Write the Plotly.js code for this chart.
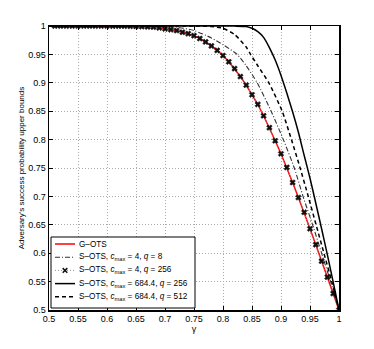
<!DOCTYPE html>
<html>
<head>
<meta charset="utf-8">
<script src="https://cdn.plot.ly/plotly-3.0.1.min.js"></script>
<style>
  html, body { margin: 0; padding: 0; background: #fff; }
  #chart { width: 374px; height: 349px; }
</style>
</head>
<body>
<div id="chart"></div>
<script>
// G-OTS (red), read at every 0.01 of gamma
const gGamma = [0.5, 0.55, 0.6, 0.61, 0.62, 0.63, 0.64, 0.65, 0.66, 0.67, 0.68, 0.69,
  0.7, 0.71, 0.72, 0.73, 0.74, 0.75, 0.76, 0.77, 0.78, 0.79, 0.8, 0.81, 0.82, 0.83,
  0.84, 0.85, 0.86, 0.87, 0.88, 0.89, 0.9, 0.91, 0.92, 0.93, 0.94, 0.95, 0.96, 0.97,
  0.98, 0.99, 1.0];
const gOts = [1.0, 1.0, 1.0, 0.9999, 0.9998, 0.9997, 0.9995, 0.9993, 0.999, 0.9985, 0.998, 0.9968,
  0.995, 0.9935, 0.992, 0.989, 0.9865, 0.983, 0.978, 0.972, 0.965, 0.957, 0.948, 0.937,
  0.925, 0.911, 0.896, 0.879, 0.862, 0.842, 0.821, 0.798, 0.775, 0.751, 0.7245, 0.698,
  0.672, 0.643, 0.615, 0.586, 0.558, 0.529, 0.5];

// S-OTS, c_max = 4, q = 256 (x markers, sit on the G-OTS curve)
const s256Gamma = [0.51, 0.52, 0.53, 0.54, 0.55, 0.56, 0.57, 0.58, 0.59, 0.6, 0.61, 0.62,
  0.63, 0.64, 0.65, 0.66, 0.67, 0.68, 0.69, 0.7, 0.71, 0.72, 0.73, 0.74, 0.75, 0.76,
  0.77, 0.78, 0.79, 0.8, 0.81, 0.82, 0.83, 0.84, 0.85, 0.86, 0.87, 0.88, 0.89, 0.9,
  0.91, 0.92, 0.93, 0.94, 0.95, 0.96, 0.97, 0.98, 0.99, 1.0];
const s256 = [1.0, 1.0, 1.0, 1.0, 1.0, 1.0, 1.0, 1.0, 1.0, 1.0, 0.9999, 0.9998,
  0.9997, 0.9995, 0.9993, 0.999, 0.9985, 0.998, 0.9968, 0.995, 0.9935, 0.992, 0.989, 0.9865,
  0.983, 0.978, 0.972, 0.965, 0.957, 0.948, 0.937, 0.925, 0.911, 0.896, 0.879, 0.862,
  0.842, 0.821, 0.798, 0.775, 0.751, 0.7245, 0.698, 0.672, 0.643, 0.615, 0.586, 0.558,
  0.529, 0.5];

// S-OTS, c_max = 4, q = 8 (dash-dot)
const s8Gamma = [0.5, 0.68, 0.72, 0.75, 0.78, 0.8, 0.8245, 0.84, 0.859, 0.883, 0.904,
  0.923, 0.938, 0.9545, 0.97, 0.9855, 1.0];
const s8 = [1.0, 1.0, 0.998, 0.992, 0.979, 0.967, 0.95, 0.93, 0.9, 0.85, 0.8,
  0.75, 0.7, 0.65, 0.6, 0.55, 0.5];

// S-OTS, c_max = 684.4, q = 256 (solid)
const c684q256Gamma = [0.5, 0.8, 0.82, 0.84, 0.85, 0.86, 0.87, 0.88, 0.89, 0.9, 0.91,
  0.92, 0.93, 0.94, 0.95, 0.96, 0.97, 0.98, 0.99, 1.0];
const c684q256 = [1.0, 1.0, 0.9998, 0.999, 0.996, 0.99, 0.98, 0.962, 0.94, 0.913, 0.882,
  0.849, 0.813, 0.772, 0.732, 0.688, 0.643, 0.597, 0.549, 0.5];

// S-OTS, c_max = 684.4, q = 512 (dashed)
const c684q512Gamma = [0.5, 0.75, 0.78, 0.8, 0.82, 0.84, 0.8475, 0.86, 0.879, 0.902,
  0.918, 0.933, 0.947, 0.9605, 0.974, 0.9875, 1.0];
const c684q512 = [1.0, 1.0, 0.999, 0.996, 0.985, 0.963, 0.95, 0.93, 0.9, 0.85,
  0.8, 0.75, 0.7, 0.65, 0.6, 0.55, 0.5];

const tickVals = [0.5, 0.55, 0.6, 0.65, 0.7, 0.75, 0.8, 0.85, 0.9, 0.95, 1];
const tickText = ['0.5', '0.55', '0.6', '0.65', '0.7', '0.75', '0.8', '0.85', '0.9', '0.95', '1'];

const seriesNames = [
  'G\u2013OTS',
  'S\u2013OTS, <i>c</i><sub>max</sub> = 4, <i>q</i> = 8',
  'S\u2013OTS, <i>c</i><sub>max</sub> = 4, <i>q</i> = 256',
  'S\u2013OTS, <i>c</i><sub>max</sub> = 684.4, <i>q</i> = 256',
  'S\u2013OTS, <i>c</i><sub>max</sub> = 684.4, <i>q</i> = 512'
];

const font = 'Liberation Sans, Arial, Helvetica, sans-serif';

const styles = [
  { color: '#ff0000', width: 1.5 },
  { color: '#333', width: 1.1, dash: '5px,2px,1px,2px' },
  { color: '#999', width: 0.8, dash: '1px,2px' },
  { color: '#000', width: 1.5 },
  { color: '#000', width: 1.5, dash: '4px,3px' }
];

const traces = [
  { x: gGamma, y: gOts, type: 'scatter', mode: 'lines', name: seriesNames[0], line: styles[0] },
  { x: s8Gamma, y: s8, type: 'scatter', mode: 'lines', name: seriesNames[1],
    line: Object.assign({ shape: 'spline', smoothing: 0.6 }, styles[1]) },
  { x: s256Gamma, y: s256, type: 'scatter', mode: 'lines+markers', name: seriesNames[2],
    line: styles[2],
    marker: { symbol: 'x', size: 5, color: '#111', line: { width: 0.5, color: '#111' } } },
  { x: c684q256Gamma, y: c684q256, type: 'scatter', mode: 'lines', name: seriesNames[3],
    line: Object.assign({ shape: 'spline', smoothing: 0.6 }, styles[3]) },
  { x: c684q512Gamma, y: c684q512, type: 'scatter', mode: 'lines', name: seriesNames[4],
    line: Object.assign({ shape: 'spline', smoothing: 0.6 }, styles[4]) }
];

// hand-built legend box in paper coords (the plotly one has too tall rows)
const W = 290, H = 284;
const px = x => (x - 49) / W;          // pixel -> paper x
const py = y => (310 - y) / H;         // pixel -> paper y
const shapes = [{
  type: 'rect', xref: 'paper', yref: 'paper', layer: 'above',
  x0: px(51), x1: px(195), y0: py(308), y1: py(237),
  fillcolor: '#fff', line: { color: '#000', width: 1 }
}];
const annotations = [];
seriesNames.forEach((name, i) => {
  const yy = py(244 + 13.2 * i);
  shapes.push({
    type: 'line', xref: 'paper', yref: 'paper', layer: 'above',
    x0: px(55), x1: px(75), y0: yy, y1: yy,
    line: { color: i === 2 ? '#777' : styles[i].color, width: styles[i].width, dash: styles[i].dash || 'solid' }
  });
  if (i === 2) {
    const d = 2.3;
    shapes.push({
      type: 'path', xref: 'paper', yref: 'paper', layer: 'above',
      path: `M${px(65 - d)},${yy + d / H} L${px(65 + d)},${yy - d / H} M${px(65 - d)},${yy - d / H} L${px(65 + d)},${yy + d / H}`,
      line: { color: '#111', width: 1.5 }
    });
  }
  annotations.push({
    xref: 'paper', yref: 'paper', x: px(77), y: yy, xanchor: 'left', yanchor: 'middle',
    text: name, showarrow: false, font: { family: font, size: 8.2, color: '#000' }
  });
});

const axisCommon = {
  range: [0.5, 1],
  tickvals: tickVals,
  ticktext: tickText,
  ticks: 'inside',
  ticklen: 4,
  tickwidth: 1,
  tickcolor: '#000',
  showline: true,
  linecolor: '#000',
  linewidth: 1.5,
  mirror: 'allticks',
  showgrid: true,
  gridcolor: '#aaa',
  gridwidth: 1,
  griddash: '1px,2px',
  zeroline: false,
  tickfont: { family: font, size: 9, color: '#000' }
};

const layout = {
  width: 374,
  height: 349,
  margin: { l: 49, r: 35, t: 26, b: 39 },
  paper_bgcolor: '#fff',
  plot_bgcolor: '#fff',
  showlegend: false,
  font: { family: font, size: 9, color: '#000' },
  xaxis: Object.assign({}, axisCommon, {
    title: { text: '\u03b3', font: { family: font, size: 9 }, standoff: 2 }
  }),
  yaxis: Object.assign({}, axisCommon, {
    title: { text: "Adversary's success probability upper bounds", font: { family: font, size: 8 }, standoff: 2 }
  }),
  shapes: shapes,
  annotations: annotations
};

Plotly.newPlot('chart', traces, layout, { staticPlot: true, displayModeBar: false });
</script>
</body>
</html>
